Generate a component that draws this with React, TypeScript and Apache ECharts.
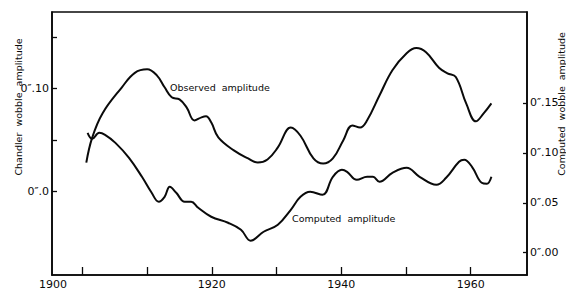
import React, { useEffect, useRef } from "react";
import * as echarts from "echarts";

// Observed amplitude (left axis, arcsec)
const observedYears = [1900.6, 1901.5, 1903.1, 1906.1, 1908.1, 1910.0, 1911.5, 1912.7, 1913.8, 1915.0, 1916.1, 1917.3, 1918.4, 1919.1, 1919.9, 1921.0, 1923.4, 1925.6, 1927.1, 1928.6, 1930.2, 1932.2, 1933.7, 1935.7, 1937.2, 1938.7, 1940.3, 1941.7, 1942.9, 1944.0, 1945.9, 1947.9, 1950.1, 1951.6, 1953.1, 1955.1, 1956.4, 1957.7, 1959.3, 1960.8, 1962.0, 1963.2];
const observedValues = [0.028, 0.052, 0.0757, 0.101, 0.115, 0.1184, 0.1126, 0.101, 0.0913, 0.0893, 0.0816, 0.0689, 0.0718, 0.0728, 0.067, 0.0524, 0.0398, 0.032, 0.028, 0.031, 0.0427, 0.062, 0.054, 0.032, 0.027, 0.032, 0.0495, 0.064, 0.062, 0.069, 0.093, 0.1175, 0.134, 0.139, 0.135, 0.12, 0.1146, 0.111, 0.0854, 0.068, 0.0757, 0.0854];

// Computed amplitude (right axis, arcsec)
const computedYears = [1900.8, 1901.5, 1902.6, 1903.5, 1905.1, 1907.2, 1909.2, 1910.7, 1911.8, 1912.7, 1913.5, 1914.5, 1915.8, 1916.8, 1917.9, 1919.9, 1922.5, 1924.5, 1926.0, 1928.0, 1930.2, 1932.2, 1933.7, 1935.2, 1937.1, 1938.7, 1940.1, 1940.9, 1942.4, 1944.0, 1944.9, 1945.9, 1947.9, 1950.1, 1952.1, 1954.7, 1956.2, 1958.2, 1959.0, 1960.2, 1961.7, 1962.5, 1963.2];
const computedValues = [0.12, 0.114, 0.12, 0.118, 0.11, 0.095, 0.076, 0.06, 0.051, 0.056, 0.066, 0.06, 0.051, 0.051, 0.045, 0.036, 0.03, 0.023, 0.012, 0.021, 0.028, 0.043, 0.056, 0.061, 0.058, 0.076, 0.083, 0.081, 0.073, 0.076, 0.076, 0.071, 0.08, 0.085, 0.076, 0.068, 0.075, 0.091, 0.093, 0.086, 0.07, 0.069, 0.076];

// Axis ticks and labels
const xTicks = [1900, 1910, 1920, 1930, 1940, 1950, 1960];
const xLabels = [1920, 1940, 1960];
const xFirstLabel = "1900";
const leftTicks = [0, 0.05, 0.1, 0.15];
const leftLabels = [0, 0.1];
const leftLabelText: Record<string, string> = { "0": "0\u2033.0", "0.1": "0\u2033.10" };
const rightTicks = [0, 0.05, 0.1, 0.15];
const rightLabelText: Record<string, string> = { "0": "0\u2033.00", "0.05": "0\u2033.05", "0.1": "0\u2033.10", "0.15": "0\u2033.15" };

const FONT = "DejaVu Sans";
const INK = "#0a0a0a";

export default function App() {
  const ref = useRef<HTMLDivElement>(null);
  useEffect(() => {
    if (!ref.current) return;
    const chart = echarts.init(ref.current, null, { renderer: "svg" });
    const toPairs = (xs: number[], ys: number[]) => xs.map((x, i) => [x, ys[i]]);
    const key = (v: number) => String(Math.round(v * 100) / 100);
    chart.setOption({
      animation: false,
      backgroundColor: "#fff",
      grid: { left: 52, right: 39, top: 12, bottom: 17, show: true, borderColor: INK, borderWidth: 1.6 },
      xAxis: {
        type: "value",
        min: 1895.3,
        max: 1968.7,
        splitLine: { show: false },
        axisLine: { show: true, onZero: false, lineStyle: { color: INK, width: 1.6 } },
        axisTick: { show: true, inside: true, length: 8, customValues: xTicks, lineStyle: { color: INK, width: 1.3 } },
        axisLabel: {
          customValues: xLabels,
          color: INK,
          fontFamily: FONT,
          fontSize: 11,
          margin: 4,
          formatter: (v: number) => String(Math.round(v)),
        },
      },
      yAxis: [
        {
          type: "value",
          min: -0.081,
          max: 0.174,
          position: "left",
          splitLine: { show: false },
          axisLine: { show: true, onZero: false, lineStyle: { color: INK, width: 1.6 } },
          axisTick: { show: true, inside: true, length: 5, customValues: leftTicks, lineStyle: { color: INK, width: 1.3 } },
          axisLabel: {
            customValues: leftLabels,
            color: INK,
            fontFamily: FONT,
            fontSize: 11,
            margin: 3,
            formatter: (v: number) => leftLabelText[key(v)] ?? "",
          },
        },
        {
          type: "value",
          min: -0.0223,
          max: 0.241,
          position: "right",
          splitLine: { show: false },
          axisLine: { show: true, onZero: false, lineStyle: { color: INK, width: 1.6 } },
          axisTick: { show: true, inside: true, length: 4, customValues: rightTicks, lineStyle: { color: INK, width: 1.3 } },
          axisLabel: {
            customValues: rightTicks,
            color: INK,
            fontFamily: FONT,
            fontSize: 11,
            margin: 3,
            formatter: (v: number) => rightLabelText[key(v)] ?? "",
          },
        },
      ],
      graphic: [
        { type: "text", x: 53, y: 284, style: { text: xFirstLabel, fill: INK, font: `11px '${FONT}'`, textAlign: "center", textVerticalAlign: "middle" } },
        { type: "text", x: 18, y: 107, rotation: Math.PI / 2, style: { text: "Chandler  wobble  amplitude", fill: INK, font: `9.5px '${FONT}'`, textAlign: "center", textVerticalAlign: "middle" } },
        { type: "text", x: 561, y: 104, rotation: Math.PI / 2, style: { text: "Computed  wobble  amplitude", fill: INK, font: `9.5px '${FONT}'`, textAlign: "center", textVerticalAlign: "middle" } },
        { type: "text", x: 170, y: 87, style: { text: "Observed  amplitude", fill: INK, font: `9.5px '${FONT}'`, textAlign: "left", textVerticalAlign: "middle" } },
        { type: "text", x: 292, y: 218, style: { text: "Computed  amplitude", fill: INK, font: `9.5px '${FONT}'`, textAlign: "left", textVerticalAlign: "middle" } },
      ],
      series: [
        {
          name: "Observed amplitude",
          type: "line",
          yAxisIndex: 0,
          data: toPairs(observedYears, observedValues),
          smooth: 0.4,
          symbol: "none",
          lineStyle: { color: INK, width: 2 },
        },
        {
          name: "Computed amplitude",
          type: "line",
          yAxisIndex: 1,
          data: toPairs(computedYears, computedValues),
          smooth: 0.4,
          symbol: "none",
          lineStyle: { color: INK, width: 2 },
        },
      ],
    });
    return () => chart.dispose();
  }, []);
  return <div ref={ref} style={{ position: "fixed", left: 0, top: 0, width: 566, height: 292 }} />;
}
